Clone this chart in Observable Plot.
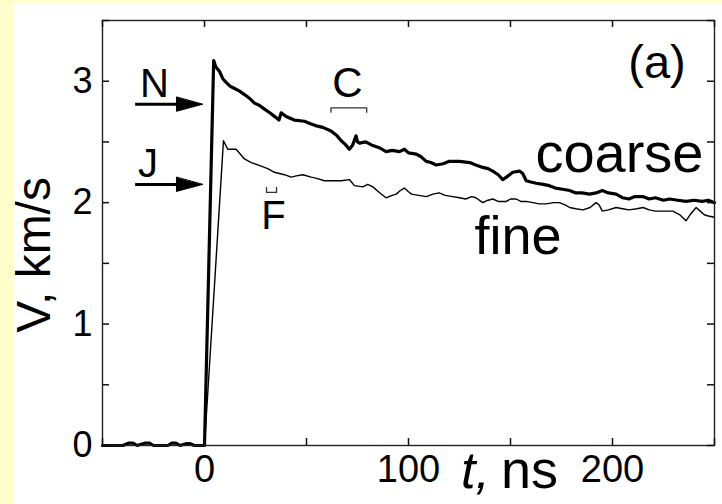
<!DOCTYPE html>
<html><head><meta charset="utf-8">
<script src="https://cdn.jsdelivr.net/npm/d3@7"></script>
<script src="https://cdn.jsdelivr.net/npm/@observablehq/plot@0.6"></script>
<style>
html,body{margin:0;padding:0;background:#ffffcc;width:722px;height:504px;overflow:hidden}
#panel{position:absolute;left:0;top:0;width:722px;height:504px}
#panel svg{display:block;background:linear-gradient(#ffffcc,#ffffcc) left top/100% 4px no-repeat,linear-gradient(#ffffcc,#ffffcc) left top/14px 100% no-repeat,#fff !important}
</style></head><body><div id="panel"></div>
<script>
// coarse-grained sample (thick noisy trace), t in ns, V in km/s
const coarseT = [-50,-40,-37,-35,-33,-29,-27,-25,-18,-16,-14,-12,-9,-7,-5,0,
  4.5,5.5,7.4,9,10.6,12.5,14.7,17,19.6,22,24.5,27,29.4,32,35.1,36.5,37.6,40,44,49,52,55.4,58,62,65,67,69,71,72.5,74.3,75,76,79,82.5,86,89,92,95.6,98,100,103.8,106,108.7,111,113.6,117,120,125,130,133,136.4,139,141.3,144,146.2,148,151.1,154.4,156,157.7,160,162.6,166,169,172,175.6,179,182,185,188.7,192,195,198,201.8,205,208,211,214.8,218,221,225,228,232,236,240,244,247,250];
const coarseV = [0,0,0.02,0.02,0,0.02,0.02,0,0,0.02,0.02,0,0.015,0.015,0,0,
  3.17,3.12,3.08,3.02,2.99,2.96,2.94,2.92,2.89,2.86,2.82,2.80,2.77,2.74,2.70,2.68,2.74,2.71,2.68,2.67,2.65,2.63,2.62,2.59,2.55,2.51,2.48,2.44,2.47,2.55,2.50,2.49,2.50,2.47,2.45,2.42,2.43,2.42,2.44,2.41,2.40,2.38,2.34,2.33,2.31,2.32,2.34,2.34,2.33,2.31,2.29,2.28,2.26,2.23,2.19,2.21,2.25,2.26,2.24,2.18,2.17,2.16,2.15,2.14,2.12,2.11,2.10,2.08,2.08,2.07,2.08,2.10,2.08,2.07,2.04,2.03,2.05,2.05,2.03,2.04,2.02,2.03,2.02,2.01,2.02,2.01,2.02,2.00];
// fine-grained sample (thin trace)
const fineT = [0,9.3,11.4,15.5,19.6,22.9,27.8,31,34.3,39.2,42.5,45,48.2,52.3,55,58.8,63,67,71,73.5,77.6,80,82.5,86,89,92,94,96,98,100,101.5,105,108.7,112,115,118,121.7,125,128,131,133,136.4,139,141.3,144,148,150,152.8,155,157.7,161,164,167.5,171,174,177,179,182,185.5,189,192,193.5,195,198,201.8,205,208,212,215,218,221,225,229.6,233,236,238,241,243,245,247,250];
const fineV = [0,2.51,2.44,2.44,2.36,2.33,2.30,2.28,2.25,2.23,2.21,2.22,2.23,2.21,2.20,2.18,2.18,2.18,2.19,2.14,2.13,2.15,2.13,2.08,2.04,2.06,2.07,2.10,2.12,2.09,2.07,2.06,2.05,2.07,2.08,2.06,2.05,2.04,2.03,2.05,2.04,2.00,2.02,2.03,2.01,2.01,2.03,2.03,2.01,2.01,2.00,1.99,1.99,2.00,2.00,1.98,1.96,1.95,1.94,1.96,2.00,1.98,1.93,1.94,1.96,1.95,1.94,1.95,1.96,1.94,1.93,1.93,1.93,1.90,1.85,1.90,1.96,1.93,1.90,1.89,1.88];

const xDomain = [-50,250];
const yDomain = [0,3.5];
const xTicks = [-50,0,50,100,150,200,250];
const xTickLabels = [0,100,200];
const yTicks = [0,0.5,1,1.5,2,2.5,3,3.5];
const yTickLabels = [0,1,2,3];

// annotations (text and data-space anchor)
const annoText = ["(a)","coarse","fine","N","J","C","F"];
const annoT = [221.8,203.4,153.7,-24.5,-27.7,70,33.8];
const annoV = [3.03,2.25,1.58,2.87,2.21,2.87,1.78];
// arrow levels (N, J)
const arrowV = [2.81,2.15];
// resolution brackets
const bracketCT = [62,62,79.5,79.5];
const bracketCV = [2.745,2.78,2.78,2.745];
const bracketFT = [30.4,30.4,35.3,35.3];
const bracketFV = [2.125,2.084,2.084,2.125];
// axis title
const yTitle = "V, km/s";
const yTitleAt = {t: -83.3, v: 1.57};

const FONT = "'Liberation Sans', Arial, Helvetica, sans-serif";
const annoSize = [47,56,54,40,40,42,40];

const W = 722, H = 504, ML = 102, MR = 8, MT = 20, MB = 59;
const PW = W - ML - MR, PH = H - MT - MB, TICK = 7;

const coarse = coarseT.map((t,i)=>({t, v: coarseV[i]}));
const fine = fineT.map((t,i)=>({t, v: fineV[i]}));
const tri = {draw(ctx, l, r){ ctx.moveTo(0,-l); ctx.lineTo(r,0); ctx.lineTo(-r,0); ctx.closePath(); }};
const tk = {stroke:"#111", strokeWidth:1.5};

const plot = Plot.plot({
  width: W, height: H,
  marginLeft: ML, marginRight: MR, marginTop: MT, marginBottom: MB,
  style: {fontFamily: FONT, color: "#000"},
  x: {domain: xDomain, label: null},
  y: {domain: yDomain, label: null},
  marks: [
    Plot.line(fine, {x:"t", y:"v", stroke:"#000", strokeWidth:1.4}),
    Plot.line(coarse, {x:"t", y:"v", stroke:"#000", strokeWidth:3.2, strokeLinejoin:"round"}),
    Plot.frame({stroke:"#222", strokeWidth:1.4}),
    Plot.ruleX(xTicks, {insetTop: PH - TICK, ...tk}),
    Plot.ruleX(xTicks, {insetBottom: PH - TICK, ...tk}),
    Plot.ruleY(yTicks, {insetRight: PW - TICK, ...tk}),
    Plot.ruleY(yTicks, {insetLeft: PW - TICK, ...tk}),
    Plot.axisX(xTickLabels, {anchor:"bottom", tickSize:0, tickPadding:10, fontSize:38, fill:"#000", tickFormat:d=>String(d)}),
    Plot.axisY(yTickLabels, {anchor:"left", tickSize:0, tickPadding:10, fontSize:36, fill:"#000", tickFormat:d=>String(d)}),
    Plot.text([yTitle], {x:()=>yTitleAt.t, y:()=>yTitleAt.v, rotate:-90, fontSize:48, fill:"#000"}),
    Plot.text(["t,"], {x:()=>132.8, frameAnchor:"bottom", lineAnchor:"bottom", dy:42, fontSize:52, fontStyle:"italic", fill:"#000"}),
    Plot.text(["ns"], {x:()=>159.3, frameAnchor:"bottom", lineAnchor:"bottom", dy:42, fontSize:54, fill:"#000"}),
    Plot.text(d3.range(annoText.length), {x:i=>annoT[i], y:i=>annoV[i], text:i=>annoText[i], fontSize:i=>annoSize[i], lineAnchor:"bottom", fill:"#000"}),
    Plot.link(arrowV, {x1:()=>-34, x2:()=>-10, y1:d=>d, y2:d=>d, stroke:"#000", strokeWidth:3}),
    Plot.vector(arrowV, {x:()=>-1, y:d=>d, rotate:90, length:26, r:7, anchor:"end", shape:tri, fill:"#000", stroke:"#000", strokeWidth:1}),
    Plot.line(bracketCT.map((t,i)=>({t, v:bracketCV[i]})), {x:"t", y:"v", stroke:"#333", strokeWidth:1.3}),
    Plot.line(bracketFT.map((t,i)=>({t, v:bracketFV[i]})), {x:"t", y:"v", stroke:"#333", strokeWidth:1.3})
  ]
});
document.getElementById("panel").appendChild(plot);
</script></body></html>
